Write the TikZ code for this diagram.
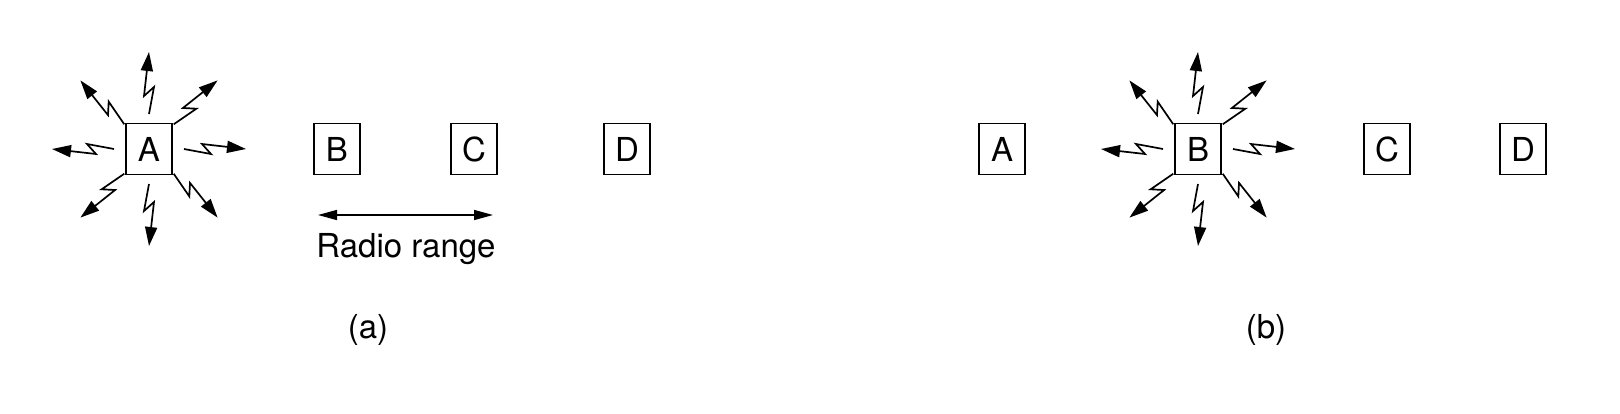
\documentclass[tikz,border=0pt]{standalone}
\usepackage{fontspec}
\setmainfont{TeX Gyre Heros}
\usetikzlibrary{arrows.meta,positioning}
\tikzset{
  station/.style={
    draw, line width=1.7pt, minimum width=46pt, minimum height=51pt,
    inner sep=0pt, outer sep=0pt, font=\fontsize{33}{39}\selectfont
  },
  zap/.style={line width=1.7pt, -{Triangle[length=19pt,width=12pt]}},
  rangearrow/.style={line width=1.5pt, {Triangle[length=19pt,width=10pt]}-{Triangle[length=19pt,width=10pt]}},
  caption/.style={font=\fontsize{33}{39}\selectfont}
}
% radio burst of eight lightning arrows round a station
\newcommand\burst[1]{%
  \foreach \ang in {0,45,...,315}{
    \draw[zap, shift={(#1.center)}, rotate=\ang] (35,0) -- (62,5) -- (53,-5) -- (97,0);
  }}

\begin{document}
\begin{tikzpicture}[x=1pt, y=-1pt]
  \useasboundingbox (0,0) rectangle (1620,413);
  % (a)
  \node[station] (A) at (149,149) {A};
  \node[station, right=142pt of A] (B) {B};
  \node[station, right=91pt of B] (C) {C};
  \node[station, right=107pt of C] (D) {D};
  \burst{A}
  \coordinate (rl) at (318,215);
  \coordinate (rr) at (493,215);
  \draw[rangearrow] (rl) -- (rr);
  \node[caption, anchor=base] (rlabel) at (406,257) {Radio range};
  \node[caption] (capa) at (368,330) {(a)};
  % (b)
  \node[station] (A2) at (1002,149) {A};
  \node[station, right=150pt of A2] (B2) {B};
  \node[station, right=143pt of B2] (C2) {C};
  \node[station, right=90pt of C2] (D2) {D};
  \burst{B2}
  \node[caption] (capb) at (1266,330) {(b)};
\end{tikzpicture}
\end{document}
